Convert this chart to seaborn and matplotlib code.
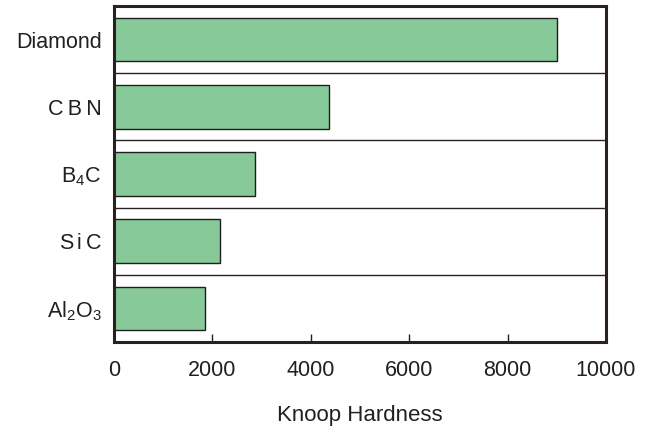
import matplotlib
matplotlib.use("Agg")
import matplotlib.pyplot as plt
import seaborn as sns
import pandas as pd

# dados
materiais = ['Diamond', 'C\u2009B\u2009N', r'B$_\mathregular{4}$C', r'S$\mathregular{\,i\,}$C',
             r'A$\mathregular{l}$$_\mathregular{2}$O$_\mathregular{3}$']
dureza = [9000, 4360, 2870, 2160, 1840]
ticks_x = [0, 2000, 4000, 6000, 8000, 10000]

sns.set_style('white')
plt.rcParams['font.family'] = ['Liberation Sans', 'DejaVu Sans']
plt.rcParams['mathtext.fontset'] = 'custom'
plt.rcParams['mathtext.rm'] = 'Liberation Sans'

df = pd.DataFrame({'material': materiais, 'dureza': dureza})

fig = plt.figure(figsize=(6.5, 4.32), dpi=100)
ax = fig.add_axes([0.1754, 0.2083, 0.7569, 0.7777])

sns.barplot(data=df, y='material', x='dureza', orient='h', color='#88c999',
            saturation=1, edgecolor='#1e1e1e', linewidth=1.0, width=0.65, ax=ax)

# linhas separadoras entre categorias
for y in [0.5, 1.5, 2.5, 3.5]:
    ax.axhline(y, color='#2a2222', lw=1.0, zorder=0)

ax.set_xlim(0, 10000)
ax.set_ylim(4.5, -0.5)
ax.set_xticks(ticks_x)
ax.set_xticklabels([str(t) for t in ticks_x], fontsize=15.5, color='#231f20')
ax.tick_params(axis='x', direction='in', length=6, width=1, color='#231f20', pad=13, bottom=True)
ax.tick_params(axis='y', length=0, pad=9, labelsize=15.5, labelcolor='#231f20')
ax.set_ylabel('')
ax.set_xlabel('Knoop Hardness', fontsize=16, color='#231f20', labelpad=17)

for s in ax.spines.values():
    s.set_linewidth(2.2)
    s.set_color('#2a2020')

fig.savefig('out.png', dpi=100)
